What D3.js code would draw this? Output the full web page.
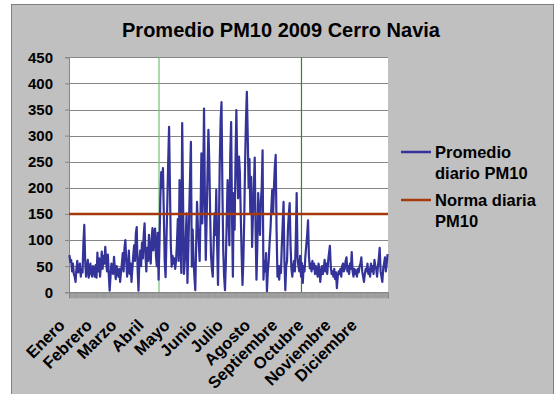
<!DOCTYPE html>
<html><head><meta charset="utf-8">
<script src="https://cdn.jsdelivr.net/npm/d3@7"></script>
<style>
html,body{margin:0;padding:0;background:#fff;}
svg{display:block;}
text{font-family:"Liberation Sans",Arial,sans-serif;font-weight:bold;fill:#000;}
</style></head><body>
<svg id="chart" width="557" height="394"></svg>
<script>
// Daily PM10 averages (µg/m³), Cerro Navia 2009, one array per month
const enero = [71, 58, 62, 40, 55, 35, 30, 20, 45, 60, 38, 42, 55, 30, 45, 38, 95, 129, 60, 30, 45, 62, 28, 40, 55, 35, 30, 50, 45, 30, 52];
const febrero = [28, 76, 40, 65, 30, 50, 78, 45, 70, 55, 87, 60, 40, 72, 35, 3, 30, 55, 40, 35, 68, 45, 25, 50, 38, 30, 45, 20];
const marzo = [38, 55, 75, 40, 85, 100, 60, 30, 50, 80, 35, 55, 20, 45, 70, 90, 60, 113, 125, 45, 3, 60, 80, 50, 95, 65, 110, 132, 70, 40, 85];
const abril = [60, 110, 75, 55, 100, 123, 80, 115, 122, 70, 50, 114, 24, 90, 180, 230, 200, 238, 150, 60, 29, 100, 171, 250, 317, 200, 90, 49, 70, 55];
const mayo = [65, 45, 60, 94, 140, 60, 215, 120, 37, 324, 180, 35, 60, 100, 151, 18, 80, 150, 220, 288, 49, 120, 60, 30, 4, 90, 173, 125, 95, 60, 150];
const junio = [266, 132, 200, 352, 180, 62, 140, 230, 311, 250, 150, 70, 45, 30, 90, 151, 110, 196, 90, 14, 120, 250, 330, 364, 200, 80, 30, 4, 60, 140];
const julio = [215, 150, 90, 260, 326, 150, 30, 190, 120, 250, 349, 240, 180, 260, 230, 150, 75, 14, 60, 140, 250, 330, 384, 300, 200, 255, 150, 221, 87, 150, 200];
const agosto = [258, 120, 24, 90, 190, 140, 110, 173, 200, 272, 24, 60, 40, 75, 2, 40, 60, 94, 120, 160, 196, 150, 200, 240, 263, 120, 30, 50, 24, 50, 37];
const septiembre = [90, 130, 173, 60, 4, 50, 60, 120, 150, 171, 90, 45, 30, 50, 60, 40, 100, 190, 66, 50, 40, 70, 30, 56, 18, 50, 40, 70, 90, 110];
const octubre = [138, 70, 46, 55, 40, 60, 45, 55, 35, 50, 40, 30, 55, 45, 20, 40, 50, 35, 45, 62, 40, 55, 35, 60, 75, 89, 50, 35, 40, 30, 45];
const noviembre = [25, 38, 8, 30, 40, 35, 45, 30, 50, 55, 40, 45, 60, 67, 40, 50, 35, 55, 45, 77, 40, 30, 45, 35, 42, 30, 45, 38, 50, 55];
const diciembre = [67, 40, 30, 20, 35, 45, 40, 55, 35, 45, 30, 55, 40, 50, 35, 62, 50, 45, 30, 50, 65, 85, 40, 30, 20, 45, 55, 67, 40, 55, 73];

const monthNames = ["Enero", "Febrero", "Marzo", "Abril", "Mayo", "Junio", "Julio", "Agosto", "Septiembre", "Octubre", "Noviembre", "Diciembre"];
const monthData = [enero, febrero, marzo, abril, mayo, junio, julio, agosto, septiembre, octubre, noviembre, diciembre];
const yTickValues = [0, 50, 100, 150, 200, 250, 300, 350, 400, 450];
const normaDiaria = 150;
// day-of-year markers drawn as vertical lines
const markerDays = [103, 266];
const markerColors = ["#72c272", "#2a8a2a"];
const legendItems = [
  { lines: ["Promedio", "diario PM10"], color: "#333399" },
  { lines: ["Norma diaria", "PM10"], color: "#a3390c" }
];

const daily = monthData.flat();
const monthStarts = [];
monthData.reduce((acc, m) => { monthStarts.push(acc); return acc + m.length; }, 0);

const svg = d3.select("#chart");
const plot = { left: 69, right: 388, top: 57.3, bottom: 292.3 };

// chart background
svg.append("rect").attr("x", 11.5).attr("y", 4.5).attr("width", 542).attr("height", 400)
  .attr("fill", "#c0c0c0").attr("stroke", "#7f7f7f").attr("stroke-width", 1);

// title
svg.append("text").attr("x", 281).attr("y", 37).attr("text-anchor", "middle")
  .style("font-size", "20px").text("Promedio PM10 2009 Cerro Navia");

const x = d3.scaleLinear().domain([0, daily.length]).range([plot.left, plot.right]);
const y = d3.scaleLinear().domain([0, 450]).range([plot.bottom, plot.top]);

svg.append("rect").attr("x", plot.left).attr("y", plot.top)
  .attr("width", plot.right - plot.left).attr("height", plot.bottom - plot.top).attr("fill", "#fff");

// horizontal gridlines
svg.append("g").selectAll("line").data(yTickValues).join("line")
  .attr("x1", plot.left).attr("x2", plot.right)
  .attr("y1", d => Math.round(y(d)) + 0.5).attr("y2", d => Math.round(y(d)) + 0.5)
  .attr("stroke", "#868686").attr("stroke-width", 1);

// y axis
const yAxis = d3.axisLeft(y).tickValues(yTickValues).tickSize(4).tickPadding(12);
const gy = svg.append("g").attr("transform", `translate(${plot.left},0)`).call(yAxis);
gy.select(".domain").attr("stroke", "#868686");
gy.selectAll(".tick line").attr("stroke", "#868686");
gy.selectAll(".tick text").style("font-size", "15px").style("font-family", "Liberation Sans, Arial, sans-serif")
  .style("font-weight", "bold").attr("fill", "#000");

// x axis: one tick per day
const xAxis = d3.axisBottom(x).tickValues(d3.range(0, daily.length + 1)).tickSize(6).tickFormat("");
const gx = svg.append("g").attr("transform", `translate(0,${plot.bottom})`).call(xAxis);
gx.select(".domain").attr("stroke", "#868686");
gx.selectAll(".tick line").attr("stroke", "#8a8a8a").attr("stroke-width", 0.6);

// month labels
svg.append("g").selectAll("text").data(monthNames).join("text")
  .attr("transform", (d, i) => `translate(${x(monthStarts[i]) - 3},${plot.bottom + 34}) rotate(-45)`)
  .attr("text-anchor", "end").style("font-size", "16.5px").text(d => d);

// vertical markers
svg.append("g").selectAll("line").data(markerDays).join("line")
  .attr("x1", d => x(d)).attr("x2", d => x(d))
  .attr("y1", plot.top).attr("y2", plot.bottom)
  .attr("stroke", (d, i) => markerColors[i]).attr("stroke-width", 1.2);

// daily series
const line = d3.line().x((d, i) => x(i + 0.5)).y(d => y(d));
svg.append("path").datum(daily).attr("d", line)
  .attr("fill", "none").attr("stroke", "#333399").attr("stroke-width", 2.2).attr("stroke-linejoin", "round");

// daily limit
svg.append("line").attr("x1", plot.left).attr("x2", plot.right)
  .attr("y1", y(normaDiaria)).attr("y2", y(normaDiaria))
  .attr("stroke", "#a3390c").attr("stroke-width", 2.5);

// legend
const lg = svg.append("g");
const legendRowsY = [152, 200];
legendItems.forEach((item, k) => {
  const yy = legendRowsY[k];
  lg.append("line").attr("x1", 401).attr("x2", 431).attr("y1", yy).attr("y2", yy)
    .attr("stroke", item.color).attr("stroke-width", 2.5);
  item.lines.forEach((t, j) => {
    lg.append("text").attr("x", 435).attr("y", yy + 6 + j * 21).style("font-size", "16.5px").text(t);
  });
});
</script>
</body></html>
